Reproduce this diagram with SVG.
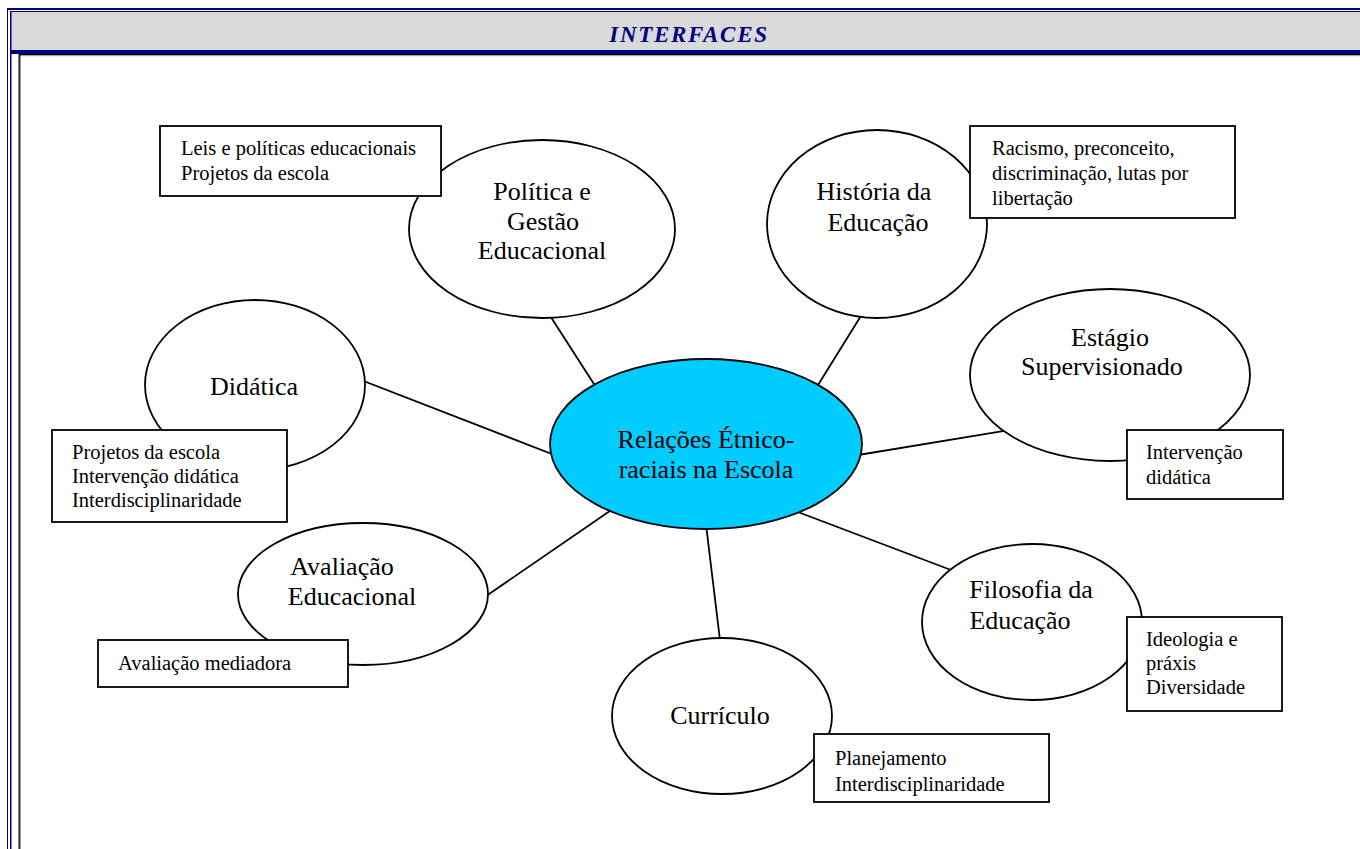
<svg xmlns="http://www.w3.org/2000/svg" width="1360" height="849" viewBox="0 0 1360 849">
<style>
.big{font-family:"Liberation Serif","Times New Roman",serif;font-size:26px;fill:#000;text-anchor:middle}
.sm{font-family:"Liberation Serif","Times New Roman",serif;font-size:20.5px;fill:#000}
.el{fill:#fff;stroke:#000;stroke-width:1.8}
.bx{fill:#fff;stroke:#000;stroke-width:1.8}
.ln{stroke:#000;stroke-width:1.8;fill:none}
</style>
<defs>
<clipPath id="clipCur"><rect x="814" y="734" width="235" height="66"/></clipPath>
</defs>
<rect width="1360" height="849" fill="#fff"/>
<!-- frame -->
<g id="frame">
<rect x="11" y="12" width="1349" height="38" fill="#d9d9d9"/>
<rect x="7" y="8" width="1353" height="2" fill="#000080"/>
<rect x="10" y="11" width="1350" height="1" fill="#000080"/>
<rect x="7" y="8" width="1" height="841" fill="#000080"/>
<rect x="10" y="11" width="1.5" height="838" fill="#000080"/>
<rect x="11" y="50" width="1349" height="4" fill="#000080"/>
<rect x="18" y="54" width="1342" height="1.2" fill="#000"/>
<rect x="18" y="55.2" width="1342" height="1" fill="#a0a0a0"/>
<rect x="18" y="54" width="1.2" height="795" fill="#808080"/>
<rect x="19.2" y="55" width="1.2" height="794" fill="#000"/>
<text x="689" y="42" font-family="Liberation Serif,'Times New Roman',serif" font-size="23" font-weight="bold" font-style="italic" fill="#000080" text-anchor="middle" letter-spacing="1.7">INTERFACES</text>
</g>
<!-- connectors -->
<g id="connectors">
<line class="ln" x1="610" y1="409" x2="520" y2="269"/>
<line class="ln" x1="805" y1="406" x2="900" y2="253"/>
<line class="ln" x1="840" y1="458" x2="1040" y2="425"/>
<line class="ln" x1="575" y1="463" x2="330" y2="368"/>
<line class="ln" x1="620" y1="504" x2="460" y2="614"/>
<line class="ln" x1="704" y1="508" x2="723" y2="665"/>
<line class="ln" x1="790" y1="509" x2="980" y2="581"/>
</g>
<g id="center">
<ellipse cx="706" cy="444" rx="156" ry="85" fill="#00ccff" stroke="#000" stroke-width="1.8"/>
<text class="big" x="706" y="448">Relações Étnico-</text>
<text class="big" x="706" y="478">raciais na Escola</text>
</g>
<g id="politica">
<ellipse class="el" cx="542" cy="229" rx="133" ry="89"/>
<text class="big" x="542" y="200">Política e</text>
<text class="big" x="543" y="230">Gestão</text>
<text class="big" x="542" y="259">Educacional</text>
</g>
<g id="box-politica">
<rect class="bx" x="160" y="126" width="281" height="70"/>
<text class="sm" x="181" y="155">Leis e políticas educacionais</text>
<text class="sm" x="181" y="180">Projetos da escola</text>
</g>
<g id="historia">
<ellipse class="el" cx="877" cy="224" rx="110" ry="94"/>
<text class="big" x="874" y="200">História da</text>
<text class="big" x="878" y="231">Educação</text>
</g>
<g id="box-historia">
<rect class="bx" x="970" y="126" width="265" height="92"/>
<text class="sm" x="992" y="155">Racismo, preconceito,</text>
<text class="sm" x="992" y="180">discriminação, lutas por</text>
<text class="sm" x="992" y="205">libertação</text>
</g>
<g id="estagio">
<ellipse class="el" cx="1110" cy="375" rx="140" ry="86"/>
<text class="big" x="1110" y="346">Estágio</text>
<text class="big" x="1102" y="375">Supervisionado</text>
</g>
<g id="box-estagio">
<rect class="bx" x="1127" y="430" width="156" height="69"/>
<text class="sm" x="1146" y="459">Intervenção</text>
<text class="sm" x="1146" y="484">didática</text>
</g>
<g id="didatica">
<ellipse class="el" cx="255" cy="385" rx="110" ry="85"/>
<text class="big" x="254" y="395">Didática</text>
</g>
<g id="box-didatica">
<rect class="bx" x="52" y="430" width="235" height="92"/>
<text class="sm" x="72" y="459">Projetos da escola</text>
<text class="sm" x="72" y="483">Intervenção didática</text>
<text class="sm" x="72" y="507">Interdisciplinaridade</text>
</g>
<g id="avaliacao">
<ellipse class="el" cx="363" cy="594" rx="125" ry="71"/>
<text class="big" x="342" y="575">Avaliação</text>
<text class="big" x="352" y="605">Educacional</text>
</g>
<g id="box-avaliacao">
<rect class="bx" x="98" y="640" width="250" height="47"/>
<text class="sm" x="118" y="670">Avaliação mediadora</text>
</g>
<g id="curriculo">
<ellipse class="el" cx="722" cy="716" rx="110" ry="78"/>
<text class="big" x="720" y="724">Currículo</text>
</g>
<g id="box-curriculo">
<rect class="bx" x="814" y="734" width="235" height="68"/>
<g clip-path="url(#clipCur)">
<text class="sm" x="835" y="765">Planejamento</text>
<text class="sm" x="835" y="791">Interdisciplinaridade</text>
</g>
</g>
<g id="filosofia">
<ellipse class="el" cx="1032" cy="622" rx="110" ry="78"/>
<text class="big" x="1031" y="598">Filosofia da</text>
<text class="big" x="1020" y="629">Educação</text>
</g>
<g id="box-filosofia">
<rect class="bx" x="1127" y="617" width="155" height="94"/>
<text class="sm" x="1146" y="646">Ideologia e</text>
<text class="sm" x="1146" y="670">práxis</text>
<text class="sm" x="1146" y="694">Diversidade</text>
</g>
</svg>
